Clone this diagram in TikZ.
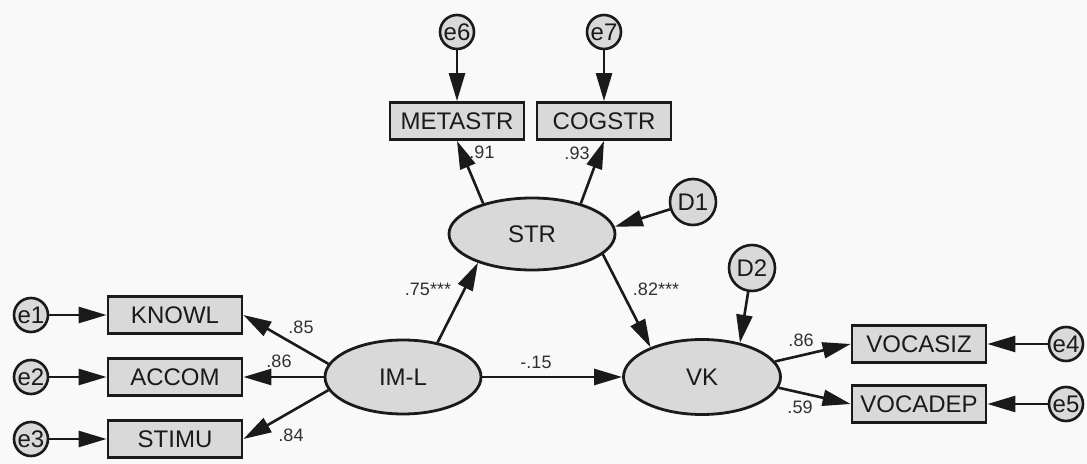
\documentclass[tikz,border=0pt]{standalone}
\usepackage{fontspec}
\setmainfont{Liberation Sans}
\usetikzlibrary{arrows.meta,shapes.geometric}

\definecolor{boxgray}{HTML}{D9D9D9}
\definecolor{ink}{HTML}{1A1A1A}
\definecolor{paper}{HTML}{F9F9F9}

\tikzset{
  obs/.style={draw=ink,fill=boxgray,line width=1.4pt,minimum width=67pt,minimum height=18.5pt,
    inner sep=0pt,text=ink,font=\fontsize{12}{14}\selectfont},
  latent/.style={ellipse,draw=ink,fill=boxgray,line width=1.4pt,inner sep=0pt,
    text=ink,font=\fontsize{12}{14}\selectfont},
  err/.style={circle,draw=ink,fill=boxgray,line width=1.3pt,minimum size=17pt,inner sep=0pt,
    text=ink,font=\fontsize{12}{14}\selectfont},
  dist/.style={err,minimum size=23pt},
  arr/.style={draw=ink,line width=1.3pt,-{Triangle[length=14pt,width=8pt]}},
  coef/.style={inner sep=0pt,text=ink!90,font=\fontsize{9}{11}\selectfont}
}

\begin{document}
\begin{tikzpicture}[x=0.5pt,y=-0.5pt]
\fill[paper] (0,0) rectangle (1087,464);

% latent variables
\node[latent,minimum width=78pt,minimum height=37pt] (iml) at (403,377) {IM-L};
\node[latent,minimum width=83pt,minimum height=36pt] (str) at (532,234) {STR};
\node[latent,minimum width=78.5pt,minimum height=37.5pt] (vk) at (702,377) {VK};

% indicators
\node[obs] (knowl) at (175,315) {KNOWL};
\node[obs] (accom) at (175,377) {ACCOM};
\node[obs] (stimu) at (175,439) {STIMU};
\node[obs] (metastr) at (457,121) {METASTR};
\node[obs] (cogstr) at (604,121) {COGSTR};
\node[obs] (vocasiz) at (919,344) {VOCASIZ};
\node[obs] (vocadep) at (919,404) {VOCADEP};

% error terms
\node[err] (e1) at (31,315) {e1};
\node[err] (e2) at (31,377) {e2};
\node[err] (e3) at (31,439) {e3};
\node[err] (e4) at (1066,344) {e4};
\node[err] (e5) at (1066,404) {e5};
\node[err] (e6) at (457,32) {e6};
\node[err] (e7) at (604,32) {e7};
\node[dist] (d1) at (693,202) {D1};
\node[dist] (d2) at (752,268) {D2};

% errors into indicators
\draw[arr] (e1) -- (knowl);
\draw[arr] (e2) -- (accom);
\draw[arr] (e3) -- (stimu);
\draw[arr] (e4) -- (vocasiz);
\draw[arr] (e5) -- (vocadep);
\draw[arr] (e6) -- (metastr);
\draw[arr] (e7) -- (cogstr);
\draw[arr] (d1) -- (str.5);
\draw[arr] (d2) -- (vk.42);

% loadings
\draw[arr] (iml.170) -- (knowl.east);
\draw[arr] (iml.west) -- (accom.east);
\draw[arr] (iml.190) -- (stimu.east);
\draw[arr] (str.148) -- (metastr.south);
\draw[arr] (str.32) -- (cogstr.south);
\draw[arr] (vk.12) -- (vocasiz.west);
\draw[arr] (vk.-8) -- (vocadep.west);

% structural paths
\draw[arr] (iml.45) -- (str.208);
\draw[arr] (str.-16) -- (vk.150);
\draw[arr] (iml.east) -- (vk.west);

% coefficients
\node[coef] (c85) at (301,327) {.85};
\node[coef] (c86a) at (279,361) {.86};
\node[coef] (c84) at (291,435) {.84};
\node[coef] (c75) at (428,289) {.75***};
\node[coef] (c91) at (482,152) {.91};
\node[coef] (c93) at (577,153) {.93};
\node[coef] (c82) at (656,289) {.82***};
\node[coef] (c15) at (536,362) {-.15};
\node[coef] (c86b) at (801,340) {.86};
\node[coef] (c59) at (800,407) {.59};
\end{tikzpicture}
\end{document}
